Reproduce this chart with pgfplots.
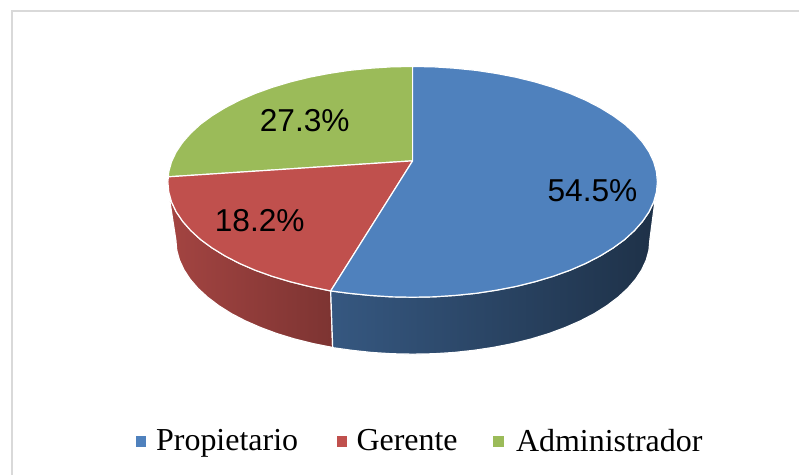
\documentclass[border=0pt]{standalone}
\usepackage{pgfplots}
\pgfplotsset{compat=1.18}
\usepackage{fontspec}
\setmainfont{Liberation Serif}
\newfontfamily\arialf{Liberation Sans}
\definecolor{cblue}{HTML}{4F81BD}
\definecolor{cred}{HTML}{C0504D}
\definecolor{cgreen}{HTML}{9BBB59}
\begin{document}
\begin{tikzpicture}
\begin{axis}[
  scale only axis, width=800pt, height=475pt,
  xmin=0, xmax=800, ymin=0, ymax=475, y dir=reverse,
  hide axis, clip=false,
  legend style={draw=none, fill=none, at={(axis cs:420.5,441.5)}, anchor=center,
    legend columns=3, font=\fontsize{32}{36}\selectfont,
    /tikz/column 1/.style={column sep=9pt},
    /tikz/column 2/.style={column sep=37pt},
    /tikz/column 3/.style={column sep=8pt},
    /tikz/column 4/.style={column sep=34pt},
    /tikz/column 5/.style={column sep=11pt},
    inner sep=0pt},
  legend cell align=left,
]
\path (axis cs:0,0) (axis cs:800,475);
% frame
\addplot[forget plot, color=black!15, line width=1.5pt, mark=none] coordinates {(12,475) (12,11) (800,11)};
% side: red
\addplot[forget plot, mark=none, draw=white, line width=1.2pt, shading=axis, shading angle=90, left color=cred!85!black, right color=cred!65!black] coordinates {
(169.5,198) (171.7,202.1) (176.3,211.9) (182.8,221.5) (191.0,230.8) (200.8,239.8) (212.3,248.2) (225.3,256.2) (239.8,263.7) (255.5,270.5) (272.5,276.6) (290.5,282.0) (309.5,286.7) (331,291.2)
(333,348) (331.9,347.6) (312.8,343.8) (294.5,339.2) (277.1,333.9) (260.7,327.8) (245.4,321.1) (231.4,313.8) (218.9,305.9) (207.8,297.5) (198.2,288.7) (190.3,279.5) (184.1,270) (179.6,260.3) (176.9,250.4) (176,240) (169.5,198)};
% side: blue
\addplot[forget plot, mark=none, draw=white, line width=1.2pt, left color=cblue!68!black, middle color=cblue!40!black, right color=cblue!38!black] coordinates {
(331,291.2) (349.6,293.6) (370.5,295.7) (391.6,297.1) (413,297.5) (434.4,297.1) (455.5,295.7) (476.4,293.6) (496.8,290.5) (516.5,286.7) (535.5,282.0) (553.5,276.6) (570.5,270.5) (586.2,263.7) (600.7,256.2) (613.7,248.2) (625.2,239.8) (635.0,230.8) (643.2,221.5) (649.7,211.9) (654.3,202.1) (656,198)
(650.5,240) (649.6,250.4) (646.9,260.3) (642.4,270) (636.2,279.5) (628.3,288.7) (618.7,297.5) (607.6,305.9) (595.1,313.8) (581.1,321.1) (565.8,327.8) (549.4,333.9) (532,339.2) (513.7,343.8) (494.6,347.6) (474.8,350.6) (454.7,352.8) (434.2,354.1) (413,354.5) (392.3,354.1) (371.8,352.8) (351.7,350.6) (333,348) (331,291.2)};
% top: Administrador
\addplot[forget plot, mark=none, fill=cgreen, draw=white, line width=1.2pt, line join=round] coordinates {
(413,161) (168.5,177) (168.9,171.9) (171.7,161.9) (176.3,152.1) (182.8,142.5) (191.0,133.2) (200.8,124.2) (212.3,115.8) (225.3,107.8) (239.8,100.3) (255.5,93.5) (272.5,87.4) (290.5,82.0) (309.5,77.3) (329.2,73.5) (349.6,70.4) (370.5,68.3) (391.6,66.9) (413,66.5) (413,161)};
% top: Gerente
\addplot[forget plot, mark=none, fill=cred, draw=white, line width=1.2pt, line join=round] coordinates {
(413,161) (331,291.2) (309.5,286.7) (290.5,282.0) (272.5,276.6) (255.5,270.5) (239.8,263.7) (225.3,256.2) (212.3,248.2) (200.8,239.8) (191.0,230.8) (182.8,221.5) (176.3,211.9) (171.7,202.1) (168.9,192.1) (168,182) (168.5,177) (413,161)};
% top: Propietario
\addplot[forget plot, mark=none, fill=cblue, draw=white, line width=1.2pt, line join=round] coordinates {
(413,161) (413,66.5) (434.4,66.9) (455.5,68.3) (476.4,70.4) (496.8,73.5) (516.5,77.3) (535.5,82.0) (553.5,87.4) (570.5,93.5) (586.2,100.3) (600.7,107.8) (613.7,115.8) (625.2,124.2) (635.0,133.2) (643.2,142.5) (649.7,152.1) (654.3,161.9) (657.1,171.9) (658,182) (657.1,192.1) (654.3,202.1) (649.7,211.9) (643.2,221.5) (635.0,230.8) (625.2,239.8) (613.7,248.2) (600.7,256.2) (586.2,263.7) (570.5,270.5) (553.5,276.6) (535.5,282.0) (516.5,286.7) (496.8,290.5) (476.4,293.6) (455.5,295.7) (434.4,297.1) (413,297.5) (391.6,297.1) (370.5,295.7) (349.6,293.6) (331,291.2) (413,161)};
% data labels
\node[anchor=base, font=\arialf\fontsize{31.7}{36}\selectfont] at (axis cs:593,201.5) {54.5\%};
\node[anchor=base, font=\arialf\fontsize{31.7}{36}\selectfont] at (axis cs:305,131.5) {27.3\%};
\node[anchor=base, font=\arialf\fontsize{31.7}{36}\selectfont] at (axis cs:260,231.7) {18.2\%};
% legend
\addlegendimage{only marks, mark=square*, mark size=4.7pt, color=cblue}
\addlegendentry{Propietario}
\addlegendimage{only marks, mark=square*, mark size=4.7pt, color=cred}
\addlegendentry{Gerente}
\addlegendimage{only marks, mark=square*, mark size=4.7pt, color=cgreen}
\addlegendentry{Administrador}
\end{axis}
\end{tikzpicture}
\end{document}
